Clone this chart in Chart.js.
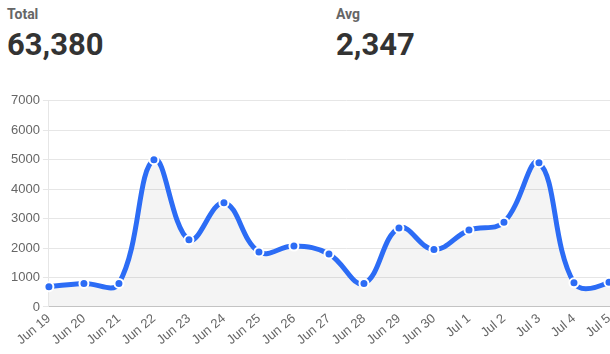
<!DOCTYPE html>
<html>
<head>
<meta charset="utf-8">
<script src="https://cdn.jsdelivr.net/npm/chart.js@4"></script>
<style>
  html, body { margin: 0; padding: 0; background: #fff; overflow: hidden; width: 610px; height: 354px; }
  .stats { position: absolute; top: 0; left: 0; width: 610px; height: 80px; font-family: Roboto, sans-serif; }
  .stat { position: absolute; top: 6px; }
  .stat .label { font-size: 14px; font-weight: bold; color: #666; }
  .stat .value { font-size: 31px; font-weight: bold; color: #333; margin-top: 4px; }
  .chart-wrap { position: absolute; left: 0; top: 90px; width: 658px; height: 262px; }
</style>
</head>
<body>
<div class="stats">
  <div class="stat" style="left:7px"><div class="label">Total</div><div class="value">63,380</div></div>
  <div class="stat" style="left:336px"><div class="label">Avg</div><div class="value">2,347</div></div>
</div>
<div class="chart-wrap"><canvas id="chart"></canvas></div>
<script>
const days = ['Jun 19', 'Jun 20', 'Jun 21', 'Jun 22', 'Jun 23', 'Jun 24', 'Jun 25', 'Jun 26', 'Jun 27',
  'Jun 28', 'Jun 29', 'Jun 30', 'Jul 1', 'Jul 2', 'Jul 3', 'Jul 4', 'Jul 5', 'Jul 6'];
const counts = [690, 800, 800, 5000, 2280, 3540, 1870, 2070, 1800,
  800, 2680, 1950, 2610, 2880, 4900, 820, 840, 1900];
const yTicks = [0, 1000, 2000, 3000, 4000, 5000, 6000, 7000];

const ctx = document.getElementById('chart').getContext('2d');
new Chart(ctx, {
  type: 'line',
  data: {
    labels: days,
    datasets: [{
      data: counts,
      borderColor: 'rgb(44,108,245)',
      backgroundColor: 'rgba(0,0,0,0.045)',
      fill: true,
      borderWidth: 5,
      tension: 0.4,
      pointRadius: 4.5,
      pointBorderWidth: 2,
      pointBackgroundColor: 'rgb(44,108,245)',
      pointBorderColor: '#fff'
    }]
  },
  options: {
    responsive: true,
    maintainAspectRatio: false,
    animation: false,
    layout: { padding: { left: 8, right: 0, top: 4, bottom: 0 } },
    plugins: { legend: { display: false }, tooltip: { enabled: false } },
    scales: {
      x: {
        offset: false,
        grid: { display: false, drawTicks: false },
        border: { color: '#ccc' },
        ticks: { color: '#666', font: { size: 13 }, maxRotation: 40, minRotation: 40, autoSkip: false, padding: 4 }
      },
      y: {
        min: 0,
        max: yTicks[yTicks.length - 1],
        afterBuildTicks: (axis) => { axis.ticks = yTicks.map(v => ({ value: v })); },
        grid: { color: '#e6e6e6', tickLength: 6 },
        border: { color: '#e6e6e6' },
        ticks: { color: '#666', font: { size: 13 }, padding: 3, callback: (v) => String(v) }
      }
    }
  }
});
</script>
</body>
</html>
